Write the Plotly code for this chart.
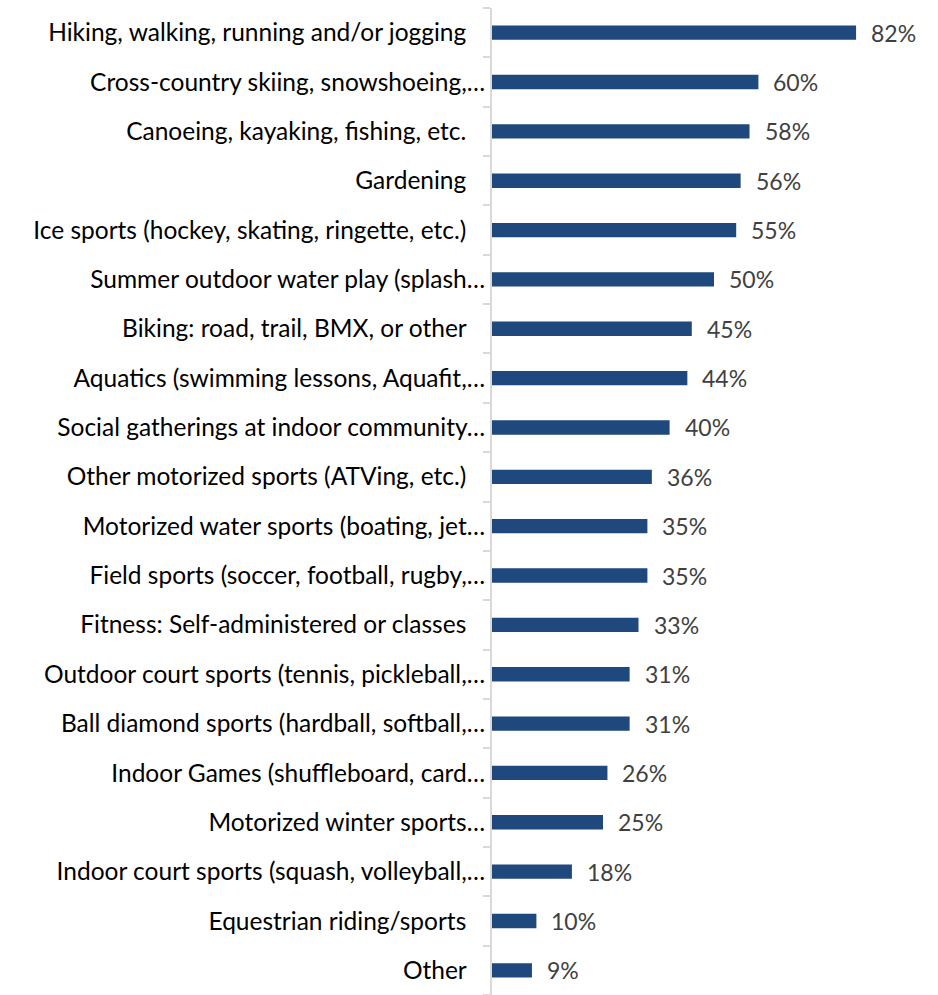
import plotly.graph_objects as go

categories = [
    "Hiking, walking, running and/or jogging",
    "Cross-country skiing, snowshoeing,…",
    "Canoeing, kayaking, fishing, etc.",
    "Gardening",
    "Ice sports (hockey, skating, ringette, etc.)",
    "Summer outdoor water play (splash…",
    "Biking: road, trail, BMX, or other",
    "Aquatics (swimming lessons, Aquafit,…",
    "Social gatherings at indoor community…",
    "Other motorized sports (ATVing, etc.)",
    "Motorized water sports (boating, jet…",
    "Field sports (soccer, football, rugby,…",
    "Fitness: Self-administered or classes",
    "Outdoor court sports (tennis, pickleball,…",
    "Ball diamond sports (hardball, softball,…",
    "Indoor Games (shuffleboard, card…",
    "Motorized winter sports…",
    "Indoor court sports (squash, volleyball,…",
    "Equestrian riding/sports",
    "Other",
]
values = [82, 60, 58, 56, 55, 50, 45, 44, 40, 36, 35, 35, 33, 31, 31, 26, 25, 18, 10, 9]

# full labels get trailing padding so they sit a little left of the truncated ones
pad = "\u00a0\u00a0\u00a0"
labels = [c if c.endswith("…") else c + pad for c in categories]

fig = go.Figure()
fig.add_trace(go.Bar(
    y=labels,
    x=values,
    orientation="h",
    width=0.29,
    marker=dict(color="#1F497D", line=dict(width=0)),
    hoverinfo="skip",
))

for lab, v in zip(labels, values):
    fig.add_annotation(
        x=v, y=lab, text=f"{v}%", showarrow=False,
        xanchor="left", xshift=13,
        font=dict(family="Lato", size=23, color="#404040"),
    )

fig.update_layout(
    width=938, height=995,
    margin=dict(l=492, r=2, t=8, b=0),
    paper_bgcolor="white", plot_bgcolor="white",
    showlegend=False,
    bargap=0.7,
)
fig.update_xaxes(range=[0, 100], visible=False)
fig.update_yaxes(
    categoryorder="array", categoryarray=labels[::-1],
    autorange=False, range=[-0.5, len(labels) - 0.5],
    tickson="boundaries", ticks="outside", ticklen=7, tickwidth=2,
    tickcolor="#D9D9D9", showline=True, linecolor="#D9D9D9", linewidth=2,
    showgrid=False, zeroline=False,
    tickfont=dict(family="Lato", size=24.5, color="#000000"),
    ticklabelstandoff=0,
)

fig.write_html("out.html")
